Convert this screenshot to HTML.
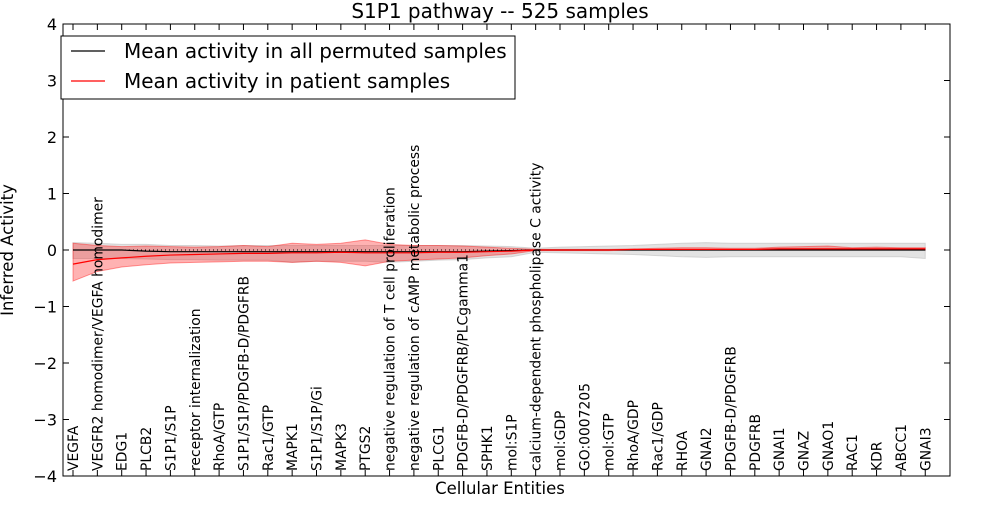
<!DOCTYPE html>
<html><head><meta charset="utf-8"><style>
body{margin:0;background:#fff;}
svg text{font-family:"DejaVu Sans","Liberation Sans",sans-serif;}
</style></head><body>
<svg id="chart" width="1000" height="500" xmlns="http://www.w3.org/2000/svg"></svg>
<script>
const categories=["VEGFA","VEGFR2 homodimer/VEGFA homodimer","EDG1","PLCB2","S1P1/S1P","receptor internalization","RhoA/GTP","S1P1/S1P/PDGFB-D/PDGFRB","Rac1/GTP","MAPK1","S1P1/S1P/Gi","MAPK3","PTGS2","negative regulation of T cell proliferation","negative regulation of cAMP metabolic process","PLCG1","PDGFB-D/PDGFRB/PLCgamma1","SPHK1","mol:S1P","calcium-dependent phospholipase C activity","mol:GDP","GO:0007205","mol:GTP","RhoA/GDP","Rac1/GDP","RHOA","GNAI2","PDGFB-D/PDGFRB","PDGFRB","GNAI1","GNAZ","GNAO1","RAC1","KDR","ABCC1","GNAI3"];
const patientMean=[-0.25,-0.17,-0.14,-0.11,-0.09,-0.08,-0.07,-0.06,-0.06,-0.05,-0.05,-0.04,-0.05,-0.05,-0.05,-0.04,-0.04,-0.03,-0.02,0,0,0,0,0.01,0.01,0.01,0.01,0.01,0.01,0.02,0.02,0.02,0.02,0.02,0.02,0.02];
const patientUpper=[0.12,0.08,0.06,0.07,0.06,0.05,0.06,0.08,0.06,0.12,0.1,0.12,0.18,0.1,0.08,0.08,0.07,0.05,0.03,0.01,0.01,0.01,0.01,0.02,0.03,0.04,0.04,0.03,0.03,0.05,0.06,0.07,0.04,0.05,0.04,0.04];
const patientLower=[-0.55,-0.38,-0.3,-0.26,-0.23,-0.22,-0.21,-0.2,-0.2,-0.22,-0.2,-0.22,-0.28,-0.2,-0.18,-0.16,-0.14,-0.1,-0.07,-0.01,-0.01,-0.01,-0.01,0,0,0,0,0,0,0,0,0,0,0,0,0];
const permMean=[0,0,0,-0.02,-0.03,-0.03,-0.03,-0.03,-0.03,-0.03,-0.03,-0.03,-0.03,-0.03,-0.03,-0.03,-0.03,-0.02,-0.01,0,0,0,0,0,0,0,0,0,0,0,0,0,0,0,0,0];
const permUpper=[0.13,0.12,0.1,0.1,0.08,0.08,0.07,0.08,0.08,0.08,0.08,0.08,0.08,0.08,0.08,0.08,0.08,0.07,0.06,0.03,0.05,0.06,0.07,0.08,0.1,0.12,0.13,0.12,0.12,0.12,0.12,0.12,0.12,0.12,0.12,0.12];
const permLower=[-0.15,-0.15,-0.15,-0.16,-0.17,-0.17,-0.18,-0.18,-0.18,-0.22,-0.2,-0.2,-0.2,-0.22,-0.2,-0.18,-0.17,-0.14,-0.12,-0.04,-0.05,-0.06,-0.07,-0.08,-0.1,-0.12,-0.13,-0.12,-0.12,-0.12,-0.12,-0.12,-0.12,-0.12,-0.12,-0.15];
const yTicks=[-4,-3,-2,-1,0,1,2,3,4];

const svg=document.getElementById('chart');
const NS='http://www.w3.org/2000/svg';
const L=63,R=950,T=24,B=476;
const xs=i=>73+i*24.35;
const ys=v=>T+(4-v)/8*(B-T);
function mk(tag,attrs){const e=document.createElementNS(NS,tag);for(const k in attrs)e.setAttribute(k,attrs[k]);svg.appendChild(e);return e;}
function band(up,lo,fill,op,name){
  let d='M'+up.map((v,i)=>xs(i)+','+ys(v)).join('L');
  for(let i=lo.length-1;i>=0;i--)d+='L'+xs(i)+','+ys(lo[i]);
  const p=mk('path',{d:d+'Z',fill:fill,'fill-opacity':op,stroke:fill,'stroke-opacity':op*1.3});
  
  
}
function line(vals,color,name){
  const p=mk('polyline',{points:vals.map((v,i)=>xs(i)+','+ys(v)).join(' '),fill:'none',stroke:color,'stroke-width':1.2});
  
  
}
band(permUpper,permLower,'#b0b0b0',0.35,'permuted-band');
band(patientUpper,patientLower,'#ff0000',0.3,'patient-band');
const zl=mk('line',{x1:xs(0),x2:xs(categories.length-1),y1:ys(0),y2:ys(0),stroke:'#000','stroke-dasharray':'1,3'});


line(permMean,'#000','permuted-mean-line');
line(patientMean,'#ff0000','patient-mean-line');
const fr=mk('rect',{x:L,y:T,width:R-L,height:B-T,fill:'none',stroke:'#000'});


yTicks.forEach(t=>{
  const y=ys(t);
  mk('line',{x1:L,x2:L+6,y1:y,y2:y,stroke:'#000'});
  mk('line',{x1:R,x2:R-6,y1:y,y2:y,stroke:'#000'});
  const tx=mk('text',{x:L-6,y:y+6,'text-anchor':'end','font-size':16});
  tx.textContent=(t<0?'\u2212'+(-t):t);
  
  
});
categories.forEach((c,i)=>{
  const x=xs(i);
  mk('line',{x1:x,x2:x,y1:B,y2:B-6,stroke:'#000'});
  mk('line',{x1:x,x2:x,y1:T,y2:T+6,stroke:'#000'});
  const tx=mk('text',{x:0,y:0,transform:'translate('+(x+5)+','+(B-5)+') rotate(-90)','font-size':13.9});
  tx.textContent=c;
  
  
});
const ti=mk('text',{x:500,y:18,'text-anchor':'middle','font-size':20});ti.textContent='S1P1 pathway -- 525 samples';

const xt=mk('text',{x:500,y:494,'text-anchor':'middle','font-size':16.5});xt.textContent='Cellular Entities';

const yt=mk('text',{x:0,y:0,transform:'translate(13,250) rotate(-90)','text-anchor':'middle','font-size':16.5});yt.textContent='Inferred Activity';

const lg=mk('rect',{x:61,y:36,width:454,height:63,fill:'#fff',stroke:'#000'});

[['Mean activity in all permuted samples','#000',51],['Mean activity in patient samples','#ff0000',81]].forEach(([s,c,y])=>{
  mk('line',{x1:71,x2:105,y1:y,y2:y,stroke:c,'stroke-width':1.2});
  const t=mk('text',{x:124,y:y+7,'font-size':20});t.textContent=s;
  
});
</script>
</body></html>
